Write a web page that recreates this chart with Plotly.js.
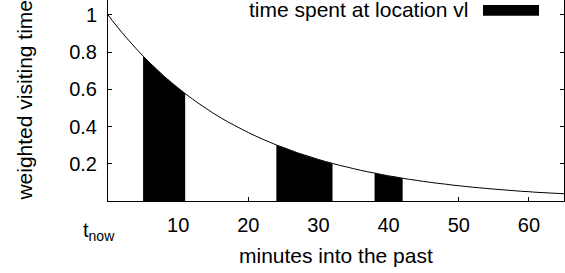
<!DOCTYPE html>
<html>
<head>
<meta charset="utf-8">
<script src="https://cdn.plot.ly/plotly-3.0.1.min.js"></script>
<style>html,body{margin:0;padding:0;background:#fff;}#chart{width:565px;height:273px;}</style>
</head>
<body>
<div id="chart"></div>
<script>
// minutes into the past (curve sample points)
const minutes = [0,1,2,3,4,5,6,7,8,9,10,11,12,13,14,15,16,17,18,19,20,21,22,23,24,25,26,27,28,29,30,31,32,33,34,35,36,37,38,39,40,41,42,43,44,45,46,47,48,49,50,51,52,53,54,55,56,57,58,59,60,61,62,63,64,65];
// weighted visiting time
const weight = [1.000,0.951,0.905,0.861,0.819,0.779,0.741,0.705,0.670,0.638,0.607,0.577,0.549,0.522,0.497,0.472,0.449,0.427,0.407,0.387,0.368,0.350,0.333,0.317,0.301,0.287,0.273,0.259,0.247,0.235,0.223,0.212,0.202,0.192,0.183,0.174,0.165,0.157,0.150,0.142,0.135,0.129,0.122,0.116,0.111,0.105,0.100,0.095,0.091,0.086,0.082,0.078,0.074,0.071,0.067,0.064,0.061,0.058,0.055,0.052,0.050,0.047,0.045,0.043,0.041,0.039];
// intervals spent at location vl
const stayStart = [5, 24, 38];
const stayEnd = [11, 32, 42];
// tick labels
const xTickVals = [10, 20, 30, 40, 50, 60];
const xTickText = ['10', '20', '30', '40', '50', '60'];
const yTickVals = [0.2, 0.4, 0.6, 0.8, 1];
const yTickText = ['0.2', '0.4', '0.6', '0.8', '1'];
const legendLabel = 'time spent at location vl';
const xTitle = 'minutes into the past';
const yTitle = 'weighted visiting time';
const nowLabel = 't<sub>now</sub>';

const traces = [];
for (let i = 0; i < stayStart.length; i++) {
  const xs = [], ys = [];
  for (let j = 0; j < minutes.length; j++) {
    if (minutes[j] >= stayStart[i] && minutes[j] <= stayEnd[i]) { xs.push(minutes[j]); ys.push(weight[j]); }
  }
  traces.push({x: xs, y: ys, type: 'scatter', mode: 'lines', fill: 'tozeroy',
    fillcolor: '#000', line: {width: 0.5, color: '#777', shape: 'spline'}, hoverinfo: 'skip', showlegend: false});
}
traces.push({x: minutes, y: weight, type: 'scatter', mode: 'lines',
  line: {color: '#000', width: 1, shape: 'spline'}, showlegend: false});

const font = {family: '"Liberation Sans", Arial, Helvetica, sans-serif', color: '#000'};
const layout = {
  width: 565, height: 273,
  margin: {l: 108, r: 1, t: 0, b: 72},
  paper_bgcolor: '#fff', plot_bgcolor: '#fff',
  showlegend: false,
  font: Object.assign({size: 20}, font),
  xaxis: {range: [0, 65], tickvals: xTickVals, ticktext: xTickText, ticks: 'inside', ticklen: 4,
    tickcolor: '#000', showline: true, linecolor: '#000', linewidth: 1, showgrid: false, zeroline: false,
    ticklabelstandoff: 6, tickfont: Object.assign({size: 20}, font), fixedrange: true},
  yaxis: {range: [0, 1.08], tickvals: yTickVals, ticktext: yTickText, ticks: 'inside', ticklen: 4,
    tickcolor: '#000', showline: true, linecolor: '#000', linewidth: 1, mirror: 'allticks', showgrid: false,
    zeroline: false, ticklabelstandoff: 6, tickfont: Object.assign({size: 20}, font), fixedrange: true},
  annotations: [
    {text: xTitle, xref: 'paper', yref: 'paper', x: 0.5, y: -0.27, xanchor: 'center', yanchor: 'middle',
      showarrow: false, font: Object.assign({size: 21}, font)},
    {text: yTitle, xref: 'paper', yref: 'paper', x: -0.184, y: 0.5, xanchor: 'center', yanchor: 'middle',
      textangle: -90, showarrow: false, font: Object.assign({size: 21}, font)},
    {text: nowLabel, xref: 'paper', yref: 'paper', x: -0.02, y: -0.15, xanchor: 'center', yanchor: 'middle',
      showarrow: false, font: Object.assign({size: 20}, font)},
    {text: legendLabel, xref: 'paper', yref: 'paper', x: 0.794, y: 0.955, xanchor: 'right', yanchor: 'middle',
      showarrow: false, font: Object.assign({size: 21}, font)}
  ],
  shapes: [
    {type: 'rect', xref: 'paper', yref: 'paper', x0: 0.8224, x1: 0.9452, y0: 0.922, y1: 0.975,
      fillcolor: '#000', line: {width: 0}}
  ]
};
Plotly.newPlot('chart', traces, layout, {staticPlot: true, displayModeBar: false});
</script>
</body>
</html>
